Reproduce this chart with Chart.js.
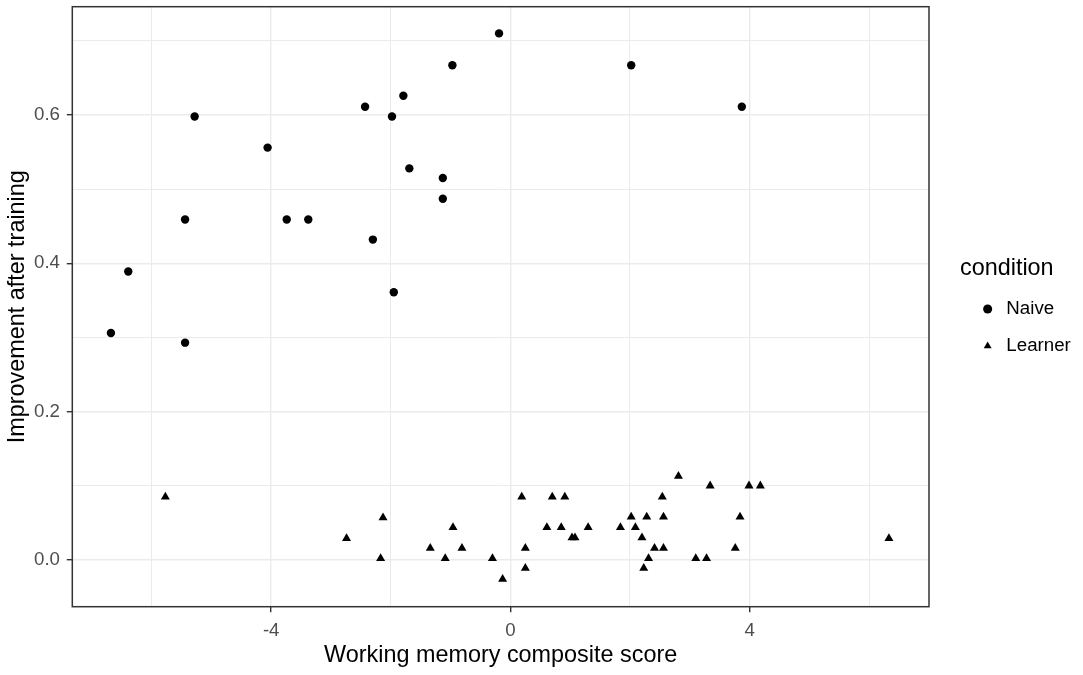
<!DOCTYPE html>
<html>
<head>
<meta charset="utf-8">
<script src="https://cdn.jsdelivr.net/npm/chart.js@4"></script>
<style>
  body { margin: 0; background: #fff; }
  canvas { display: block; }
</style>
</head>
<body>
<canvas id="mycanvas" width="1083" height="675"></canvas>
<script>
// condition: Naive
var naiveX = [-0.19, -0.97, -1.79, -2.43, -5.28, -1.98, -4.06, -1.69, -1.13, -1.13,
              -5.44, -3.74, -3.38, -2.30, -6.39, -1.95, -6.68, -5.44, 2.02, 3.87];
var naiveY = [0.710, 0.667, 0.626, 0.611, 0.598, 0.598, 0.556, 0.528, 0.515, 0.487,
              0.459, 0.459, 0.459, 0.432, 0.389, 0.361, 0.306, 0.293, 0.667, 0.611];

// condition: Learner
var learnerX = [-5.77, -2.13, -2.74, -0.96, -1.34, -0.81, -2.17, -1.09, -0.30, -0.13,
                0.19, 0.25, 0.25, 0.61, 0.70, 0.91, 0.85, 1.03, 1.08, 1.30,
                1.84, 2.02, 2.09, 2.28, 2.20, 2.41, 2.31, 2.23, 2.54, 2.56,
                2.56, 2.81, 3.34, 3.10, 3.28, 3.84, 3.76, 3.99, 4.18, 6.33];
var learnerY = [0.085, 0.057, 0.029, 0.044, 0.016, 0.016, 0.002, 0.002, 0.002, -0.026,
                0.085, 0.016, -0.011, 0.044, 0.085, 0.085, 0.044, 0.030, 0.030, 0.044,
                0.044, 0.058, 0.044, 0.058, 0.030, 0.016, 0.002, -0.011, 0.085, 0.058,
                0.016, 0.113, 0.100, 0.002, 0.002, 0.058, 0.016, 0.100, 0.100, 0.029];

var conditions = ["Naive", "Learner"];

// axis ticks (labelled) and grid lines (major + minor)
var xTickLabels = [-4, 0, 4];
var xGridValues = [-6, -4, -2, 0, 2, 4, 6];
var yTickLabels = [0, 0.2, 0.4, 0.6];
var yGridValues = [0, 0.1, 0.2, 0.3, 0.4, 0.5, 0.6, 0.7];

var xTitle = "Working memory composite score";
var yTitle = "Improvement after training";
var legendTitle = "condition";

function toPoints(xs, ys) {
  var pts = [];
  for (var i in xs) {
    pts.push({x: xs[i], y: ys[i]});
  }
  return pts;
}

function isLabelled(list, v) {
  for (var i in list) {
    if (Math.abs(list[i] - v) < 1e-9) return true;
  }
  return false;
}

var FONT = "'Liberation Sans', Arial, sans-serif";

// ggplot-ish frame: panel border and fixed margins
var frame = {
  id: "frame",
  afterInit: function(chart) {
    var legend = chart.legend;
    var fit = legend.fit.bind(legend);
    legend.fit = function() {
      fit();
      this.width = 154;
    };
  },
  afterLayout: function(chart) {
    chart.legend.left += 31;
    chart.legend.right += 31;
  },
  afterDraw: function(chart) {
    var a = chart.chartArea;
    var ctx = chart.ctx;
    ctx.save();
    ctx.strokeStyle = "#333333";
    ctx.lineWidth = 1.5;
    ctx.strokeRect(a.left, a.top, a.right - a.left, a.bottom - a.top);
    ctx.restore();
  }
};

var chartdata = {
  datasets: [
    {
      label: conditions[0],
      data: toPoints(naiveX, naiveY),
      pointStyle: "circle",
      pointRadius: 4.2,
      backgroundColor: "#000000",
      borderColor: "#000000",
      borderWidth: 0
    },
    {
      label: conditions[1],
      data: toPoints(learnerX, learnerY),
      pointStyle: "triangle",
      pointRadius: 5.2,
      backgroundColor: "#000000",
      borderColor: "#000000",
      borderWidth: 0
    }
  ]
};

var ctx = document.getElementById("mycanvas");

var ScatterGraph = new Chart(ctx, {
  type: "scatter",
  data: chartdata,
  plugins: [frame],
  options: {
    responsive: false,
    animation: false,
    devicePixelRatio: 1,
    events: [],
    layout: { padding: { top: 6.7, left: 0, right: 0, bottom: 0 } },
    plugins: {
      tooltip: { enabled: false },
      legend: {
        position: "right",
        align: "start",
        title: {
          display: true,
          text: legendTitle,
          color: "#000000",
          position: "start",
          font: { family: FONT, size: 23.4, lineHeight: 1 },
          padding: { top: 250.6, bottom: 0.6 }
        },
        labels: {
          usePointStyle: true,
          boxHeight: 6.4,
          padding: 18.3,
          color: "#000000",
          font: { family: FONT, size: 18.7 }
        }
      }
    },
    scales: {
      x: {
        type: "linear",
        min: -7.326,
        max: 7.0,
        afterBuildTicks: function(scale) {
          scale.ticks = xGridValues.map(function(v) { return {value: v}; });
        },
        afterFit: function(scale) {
          scale.height = 68.3;
          scale.paddingLeft = 0;
          scale.paddingRight = 0;
        },
        ticks: {
          autoSkip: false,
          maxRotation: 0,
          padding: 7.5,
          color: "#4d4d4d",
          font: { family: FONT, size: 18.7 },
          callback: function(v) {
            return isLabelled(xTickLabels, v) ? String(v) : "";
          }
        },
        grid: {
          color: "#ebebeb",
          lineWidth: function(c) {
            return isLabelled(xTickLabels, c.tick.value) ? 1.4 : 1;
          },
          tickColor: function(c) {
            return isLabelled(xTickLabels, c.tick.value) ? "#333333" : "rgba(0,0,0,0)";
          },
          tickLength: 5.5,
          tickWidth: 1.4
        },
        border: { display: false },
        title: {
          display: true,
          text: xTitle,
          color: "#000000",
          font: { family: FONT, size: 23.4 },
          padding: { top: 0, bottom: 5.7 }
        }
      },
      y: {
        type: "linear",
        min: -0.063,
        max: 0.746,
        afterBuildTicks: function(scale) {
          scale.ticks = yGridValues.map(function(v) { return {value: v}; });
        },
        afterFit: function(scale) {
          scale.width = 72.3;
          scale.paddingTop = 0;
          scale.paddingBottom = 0;
        },
        ticks: {
          autoSkip: false,
          padding: 6.8,
          color: "#4d4d4d",
          font: { family: FONT, size: 18.7 },
          callback: function(v) {
            return isLabelled(yTickLabels, v) ? v.toFixed(1) : "";
          }
        },
        grid: {
          color: "#ebebeb",
          lineWidth: function(c) {
            return isLabelled(yTickLabels, c.tick.value) ? 1.4 : 1;
          },
          tickColor: function(c) {
            return isLabelled(yTickLabels, c.tick.value) ? "#333333" : "rgba(0,0,0,0)";
          },
          tickLength: 5.5,
          tickWidth: 1.4
        },
        border: { display: false },
        title: {
          display: true,
          text: yTitle,
          color: "#000000",
          font: { family: FONT, size: 23.4 },
          padding: { top: 3.5, bottom: 0 }
        }
      }
    }
  }
});
</script>
</body>
</html>
